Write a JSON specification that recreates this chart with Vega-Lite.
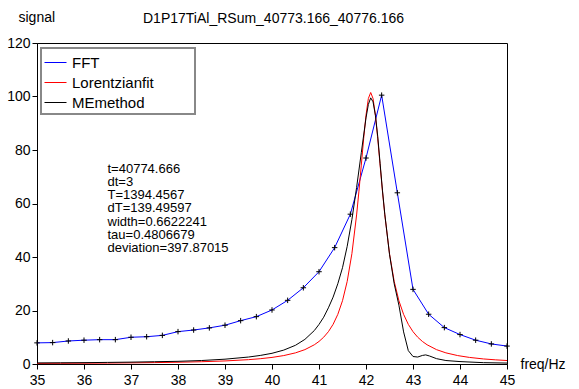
{
  "$schema": "https://vega.github.io/schema/vega-lite/v6.json",
  "width": 470,
  "height": 321,
  "autosize": {"type": "none"},
  "padding": {"left": 37, "top": 43, "right": 72, "bottom": 25},
  "background": "white",
  "title": {
    "text": "D1P17TiAl_RSum_40773.166_40776.166",
    "anchor": "start",
    "frame": "group",
    "dx": 106,
    "dy": 16,
    "offset": 0,
    "font": "Liberation Sans",
    "fontSize": 14,
    "fontWeight": "normal",
    "color": "black"
  },
  "config": {
    "view": {"stroke": "black", "strokeWidth": 1},
    "axis": {
      "grid": false,
      "domainColor": "black",
      "tickColor": "black",
      "labelColor": "black",
      "titleColor": "black",
      "labelFont": "Liberation Sans",
      "titleFont": "Liberation Sans",
      "labelFontSize": 14,
      "titleFontSize": 14,
      "titleFontWeight": "normal",
      "tickSize": 5,
      "labelOverlap": false,
      "labelFlush": false
    },
    "legend": {
      "labelFont": "Liberation Sans",
      "labelFontSize": 15,
      "labelColor": "black",
      "strokeWidth": 2
    }
  },
  "datasets": {
    "curves": [
      {"f": 35.0, "v": 7.9, "s": "FFT"},
      {"f": 35.333, "v": 8.0, "s": "FFT"},
      {"f": 35.667, "v": 8.6, "s": "FFT"},
      {"f": 36.0, "v": 8.9, "s": "FFT"},
      {"f": 36.333, "v": 9.1, "s": "FFT"},
      {"f": 36.667, "v": 9.1, "s": "FFT"},
      {"f": 37.0, "v": 10.0, "s": "FFT"},
      {"f": 37.333, "v": 10.2, "s": "FFT"},
      {"f": 37.667, "v": 10.7, "s": "FFT"},
      {"f": 38.0, "v": 12.1, "s": "FFT"},
      {"f": 38.333, "v": 12.7, "s": "FFT"},
      {"f": 38.667, "v": 13.5, "s": "FFT"},
      {"f": 39.0, "v": 14.5, "s": "FFT"},
      {"f": 39.333, "v": 16.2, "s": "FFT"},
      {"f": 39.667, "v": 17.7, "s": "FFT"},
      {"f": 40.0, "v": 20.2, "s": "FFT"},
      {"f": 40.333, "v": 23.8, "s": "FFT"},
      {"f": 40.667, "v": 28.5, "s": "FFT"},
      {"f": 41.0, "v": 34.5, "s": "FFT"},
      {"f": 41.333, "v": 43.5, "s": "FFT"},
      {"f": 41.667, "v": 56.0, "s": "FFT"},
      {"f": 42.0, "v": 77.0, "s": "FFT"},
      {"f": 42.333, "v": 100.5, "s": "FFT"},
      {"f": 42.667, "v": 64.0, "s": "FFT"},
      {"f": 43.0, "v": 27.9, "s": "FFT"},
      {"f": 43.333, "v": 18.6, "s": "FFT"},
      {"f": 43.667, "v": 13.6, "s": "FFT"},
      {"f": 44.0, "v": 11.0, "s": "FFT"},
      {"f": 44.333, "v": 8.9, "s": "FFT"},
      {"f": 44.667, "v": 7.5, "s": "FFT"},
      {"f": 45.0, "v": 6.7, "s": "FFT"},

      {"f": 35.0, "v": 0.22, "s": "Lorentzianfit"},
      {"f": 35.5, "v": 0.26, "s": "Lorentzianfit"},
      {"f": 36.0, "v": 0.3, "s": "Lorentzianfit"},
      {"f": 36.5, "v": 0.35, "s": "Lorentzianfit"},
      {"f": 37.0, "v": 0.43, "s": "Lorentzianfit"},
      {"f": 37.5, "v": 0.52, "s": "Lorentzianfit"},
      {"f": 38.0, "v": 0.66, "s": "Lorentzianfit"},
      {"f": 38.5, "v": 0.85, "s": "Lorentzianfit"},
      {"f": 39.0, "v": 1.14, "s": "Lorentzianfit"},
      {"f": 39.5, "v": 1.62, "s": "Lorentzianfit"},
      {"f": 39.75, "v": 1.98, "s": "Lorentzianfit"},
      {"f": 40.0, "v": 2.46, "s": "Lorentzianfit"},
      {"f": 40.25, "v": 3.15, "s": "Lorentzianfit"},
      {"f": 40.5, "v": 4.17, "s": "Lorentzianfit"},
      {"f": 40.7, "v": 5.37, "s": "Lorentzianfit"},
      {"f": 40.9, "v": 7.18, "s": "Lorentzianfit"},
      {"f": 41.0, "v": 8.43, "s": "Lorentzianfit"},
      {"f": 41.1, "v": 10.02, "s": "Lorentzianfit"},
      {"f": 41.2, "v": 12.08, "s": "Lorentzianfit"},
      {"f": 41.3, "v": 14.83, "s": "Lorentzianfit"},
      {"f": 41.4, "v": 18.55, "s": "Lorentzianfit"},
      {"f": 41.5, "v": 23.66, "s": "Lorentzianfit"},
      {"f": 41.6, "v": 30.89, "s": "Lorentzianfit"},
      {"f": 41.7, "v": 41.25, "s": "Lorentzianfit"},
      {"f": 41.8, "v": 55.72, "s": "Lorentzianfit"},
      {"f": 41.85, "v": 64.62, "s": "Lorentzianfit"},
      {"f": 41.9, "v": 74.35, "s": "Lorentzianfit"},
      {"f": 41.95, "v": 84.21, "s": "Lorentzianfit"},
      {"f": 42.0, "v": 93.01, "s": "Lorentzianfit"},
      {"f": 42.05, "v": 99.24, "s": "Lorentzianfit"},
      {"f": 42.1, "v": 101.5, "s": "Lorentzianfit"},
      {"f": 42.15, "v": 99.24, "s": "Lorentzianfit"},
      {"f": 42.2, "v": 93.01, "s": "Lorentzianfit"},
      {"f": 42.25, "v": 84.21, "s": "Lorentzianfit"},
      {"f": 42.3, "v": 74.35, "s": "Lorentzianfit"},
      {"f": 42.35, "v": 64.62, "s": "Lorentzianfit"},
      {"f": 42.4, "v": 55.72, "s": "Lorentzianfit"},
      {"f": 42.5, "v": 41.25, "s": "Lorentzianfit"},
      {"f": 42.6, "v": 30.89, "s": "Lorentzianfit"},
      {"f": 42.7, "v": 23.66, "s": "Lorentzianfit"},
      {"f": 42.8, "v": 18.55, "s": "Lorentzianfit"},
      {"f": 42.9, "v": 14.83, "s": "Lorentzianfit"},
      {"f": 43.0, "v": 12.08, "s": "Lorentzianfit"},
      {"f": 43.1, "v": 10.02, "s": "Lorentzianfit"},
      {"f": 43.2, "v": 8.43, "s": "Lorentzianfit"},
      {"f": 43.3, "v": 7.18, "s": "Lorentzianfit"},
      {"f": 43.5, "v": 5.37, "s": "Lorentzianfit"},
      {"f": 43.7, "v": 4.17, "s": "Lorentzianfit"},
      {"f": 43.95, "v": 3.15, "s": "Lorentzianfit"},
      {"f": 44.2, "v": 2.46, "s": "Lorentzianfit"},
      {"f": 44.5, "v": 1.89, "s": "Lorentzianfit"},
      {"f": 44.75, "v": 1.56, "s": "Lorentzianfit"},
      {"f": 45.0, "v": 1.3, "s": "Lorentzianfit"},

      {"f": 35.0, "v": 0.4, "s": "MEmethod"},
      {"f": 35.5, "v": 0.45, "s": "MEmethod"},
      {"f": 36.0, "v": 0.5, "s": "MEmethod"},
      {"f": 36.5, "v": 0.6, "s": "MEmethod"},
      {"f": 37.0, "v": 0.7, "s": "MEmethod"},
      {"f": 37.5, "v": 0.85, "s": "MEmethod"},
      {"f": 38.0, "v": 1.0, "s": "MEmethod"},
      {"f": 38.5, "v": 1.3, "s": "MEmethod"},
      {"f": 39.0, "v": 1.8, "s": "MEmethod"},
      {"f": 39.5, "v": 2.6, "s": "MEmethod"},
      {"f": 39.75, "v": 3.2, "s": "MEmethod"},
      {"f": 40.0, "v": 4.0, "s": "MEmethod"},
      {"f": 40.25, "v": 5.2, "s": "MEmethod"},
      {"f": 40.5, "v": 7.0, "s": "MEmethod"},
      {"f": 40.7, "v": 9.2, "s": "MEmethod"},
      {"f": 40.9, "v": 12.5, "s": "MEmethod"},
      {"f": 41.0, "v": 14.8, "s": "MEmethod"},
      {"f": 41.1, "v": 17.5, "s": "MEmethod"},
      {"f": 41.2, "v": 21.0, "s": "MEmethod"},
      {"f": 41.3, "v": 25.0, "s": "MEmethod"},
      {"f": 41.4, "v": 30.0, "s": "MEmethod"},
      {"f": 41.5, "v": 36.0, "s": "MEmethod"},
      {"f": 41.6, "v": 44.0, "s": "MEmethod"},
      {"f": 41.7, "v": 54.0, "s": "MEmethod"},
      {"f": 41.8, "v": 66.0, "s": "MEmethod"},
      {"f": 41.9, "v": 79.0, "s": "MEmethod"},
      {"f": 42.0, "v": 92.0, "s": "MEmethod"},
      {"f": 42.05, "v": 97.0, "s": "MEmethod"},
      {"f": 42.1, "v": 99.5, "s": "MEmethod"},
      {"f": 42.15, "v": 98.0, "s": "MEmethod"},
      {"f": 42.2, "v": 93.0, "s": "MEmethod"},
      {"f": 42.25, "v": 85.0, "s": "MEmethod"},
      {"f": 42.3, "v": 75.0, "s": "MEmethod"},
      {"f": 42.35, "v": 65.0, "s": "MEmethod"},
      {"f": 42.4, "v": 56.0, "s": "MEmethod"},
      {"f": 42.5, "v": 41.0, "s": "MEmethod"},
      {"f": 42.6, "v": 30.0, "s": "MEmethod"},
      {"f": 42.7, "v": 22.0, "s": "MEmethod"},
      {"f": 42.8, "v": 12.0, "s": "MEmethod"},
      {"f": 42.9, "v": 5.0, "s": "MEmethod"},
      {"f": 43.0, "v": 2.8, "s": "MEmethod"},
      {"f": 43.1, "v": 2.6, "s": "MEmethod"},
      {"f": 43.2, "v": 3.2, "s": "MEmethod"},
      {"f": 43.27, "v": 3.4, "s": "MEmethod"},
      {"f": 43.35, "v": 3.0, "s": "MEmethod"},
      {"f": 43.5, "v": 2.0, "s": "MEmethod"},
      {"f": 43.7, "v": 1.3, "s": "MEmethod"},
      {"f": 44.0, "v": 0.9, "s": "MEmethod"},
      {"f": 44.5, "v": 0.5, "s": "MEmethod"},
      {"f": 45.0, "v": 0.35, "s": "MEmethod"}
    ],
    "notes": [
      {"nf": 36.5, "nv": 75.3, "label": "t=40774.666\ndt=3\nT=1394.4567\ndT=139.49597\nwidth=0.6622241\ntau=0.4806679\ndeviation=397.87015"}
    ]
  },
  "layer": [
    {
      "data": {"name": "curves"},
      "mark": {"type": "line", "strokeWidth": 1, "interpolate": "linear"},
      "encoding": {
        "x": {
          "field": "f",
          "type": "quantitative",
          "scale": {"domain": [35, 45], "nice": false, "zero": false},
          "axis": {
            "title": "freq/Hz",
            "titleAngle": 0,
            "titleAlign": "left",
            "titleBaseline": "middle",
            "titleX": 483,
            "titleY": 0,
            "format": ".0f",
            "values": [35, 35.25, 35.5, 35.75, 36, 36.25, 36.5, 36.75, 37, 37.25, 37.5, 37.75, 38, 38.25, 38.5, 38.75, 39, 39.25, 39.5, 39.75, 40, 40.25, 40.5, 40.75, 41, 41.25, 41.5, 41.75, 42, 42.25, 42.5, 42.75, 43, 43.25, 43.5, 43.75, 44, 44.25, 44.5, 44.75, 45],
            "labelExpr": "datum.value % 1 === 0 ? datum.label : ''",
            "labelPadding": 4
          }
        },
        "y": {
          "field": "v",
          "type": "quantitative",
          "scale": {"domain": [0, 120], "nice": false},
          "axis": {
            "title": "signal",
            "titleAngle": 0,
            "titleAlign": "left",
            "titleBaseline": "middle",
            "titleX": -19,
            "titleY": -26,
            "values": [0, 10, 20, 30, 40, 50, 60, 70, 80, 90, 100, 110, 120],
            "labelExpr": "datum.value % 20 === 0 ? datum.label : ''",
            "labelPadding": 2
          }
        },
        "color": {
          "field": "s",
          "type": "nominal",
          "scale": {"domain": ["FFT", "Lorentzianfit", "MEmethod"], "range": ["#0000ff", "#ff0000", "#000000"]},
          "legend": {
            "title": "x",
            "titleColor": "white",
            "titleOrient": "right",
            "titlePadding": 31,
            "orient": "none",
            "legendX": 4,
            "legendY": 5,
            "symbolType": "stroke",
            "symbolSize": 484,
            "symbolStrokeWidth": 1,
            "labelOffset": 5,
            "padding": 3,
            "rowPadding": 0,
            "strokeColor": "#888888",
            "fillColor": "white"
          }
        }
      }
    },
    {
      "data": {"name": "curves"},
      "transform": [{"filter": "datum.s === 'FFT'"}],
      "mark": {"type": "point", "shape": "M-1,0H1M0,-1V1", "size": 30, "filled": false, "stroke": "black", "strokeWidth": 1, "opacity": 1},
      "encoding": {
        "x": {"field": "f", "type": "quantitative"},
        "y": {"field": "v", "type": "quantitative"}
      }
    },
    {
      "data": {"name": "notes"},
      "mark": {
        "type": "text",
        "font": "Liberation Sans",
        "fontSize": 13,
        "lineHeight": 13.3,
        "lineBreak": "\n",
        "align": "left",
        "baseline": "top",
        "fill": "black"
      },
      "encoding": {
        "x": {"field": "nf", "type": "quantitative"},
        "y": {"field": "nv", "type": "quantitative"},
        "text": {"field": "label", "type": "nominal"}
      }
    }
  ]
}
